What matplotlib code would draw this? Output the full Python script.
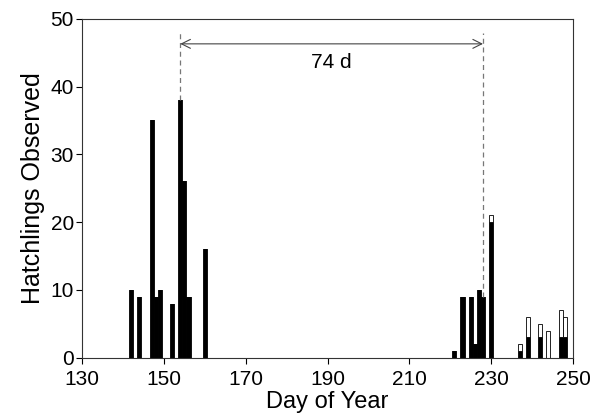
import matplotlib.pyplot as plt

plt.rcParams['font.family'] = ['Liberation Sans', 'DejaVu Sans']

# day of year, black (filled) counts, open counts stacked on top
days = [142, 144, 147, 148, 149, 152, 154, 155, 156, 160,
        221, 223, 225, 226, 227, 228, 230, 237, 239, 242, 244, 247, 248]
filled = [10, 9, 35, 9, 10, 8, 38, 26, 9, 16,
          1, 9, 9, 2, 10, 9, 20, 1, 3, 3, 0, 3, 3]
open_ = [0, 0, 0, 0, 0, 0, 0, 0, 0, 0,
         0, 0, 0, 0, 0, 0, 1, 1, 3, 2, 4, 4, 3]

start_day = 154
end_day = 228
span_label = '74 d'

fig = plt.figure(figsize=(5.95, 4.17), dpi=100)
ax = fig.add_axes([0.138, 0.142, 0.825, 0.813])

ax.bar(days, filled, width=1.0, color='black', edgecolor='black', linewidth=0.6)
ax.bar(days, open_, width=1.0, bottom=filled, color='white', edgecolor='black', linewidth=0.6)

# dashed markers and span arrow
top_start = filled[days.index(start_day)]
top_end = filled[days.index(end_day)]
ax.plot([start_day, start_day], [top_start, 47.9], ls=(0, (4, 3)), color='#777777', lw=0.9)
ax.plot([end_day, end_day], [top_end, 47.9], ls=(0, (4, 3)), color='#777777', lw=0.9)
ax.annotate('', xy=(start_day, 46.3), xytext=(end_day, 46.3),
            arrowprops=dict(arrowstyle='<->', color='#444444', lw=0.8,
                            shrinkA=0, shrinkB=0, mutation_scale=16))
ax.text((start_day + end_day) / 2, 43.5, span_label, ha='center', va='center', fontsize=15)

ax.set_xlim(130, 250)
ax.set_ylim(0, 50)
ax.set_xticks(range(130, 251, 20))
ax.set_yticks(range(0, 51, 10))
ax.tick_params(direction='out', length=4, width=0.8, labelsize=15)
ax.tick_params(axis='x', pad=5)
ax.tick_params(axis='y', pad=2)
for s in ax.spines.values():
    s.set_linewidth(0.8)
    s.set_color('#333333')

ax.set_xlabel('Day of Year', fontsize=17, labelpad=1)
ax.set_ylabel('Hatchlings Observed', fontsize=18, labelpad=4)

fig.savefig('out.png', dpi=100)
